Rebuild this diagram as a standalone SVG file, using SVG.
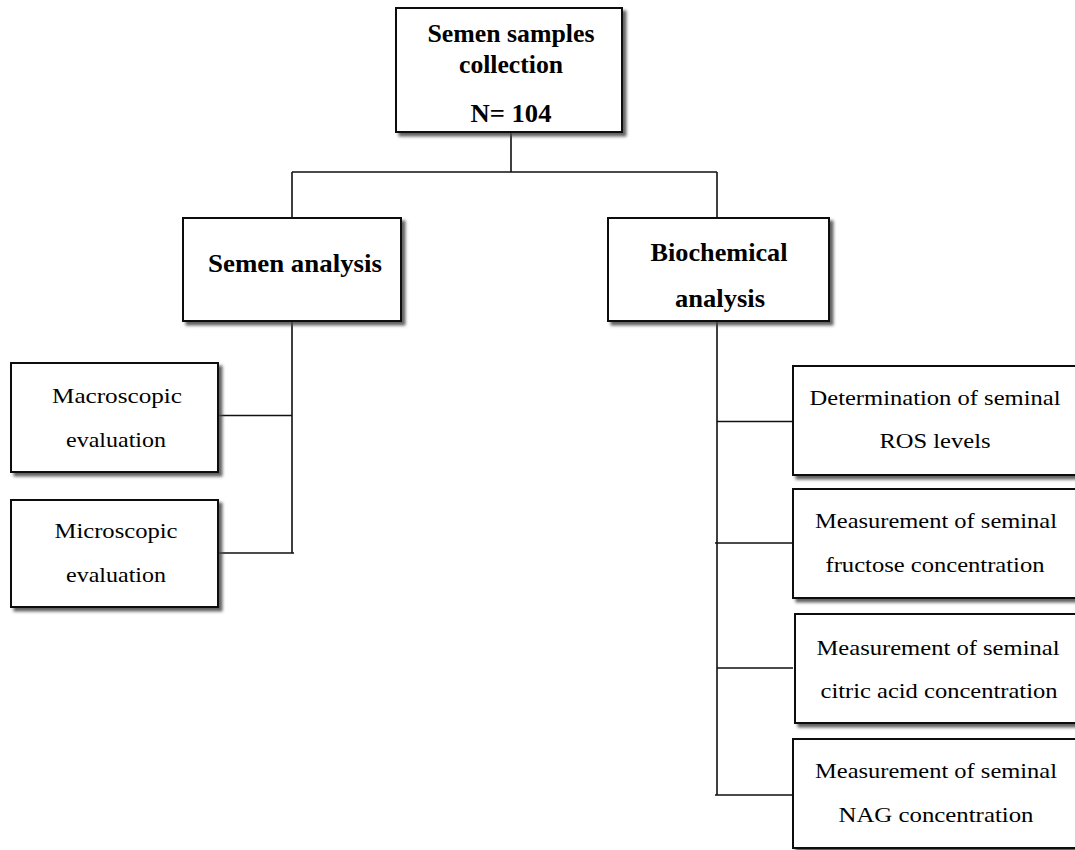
<svg xmlns="http://www.w3.org/2000/svg" width="1075" height="850" viewBox="0 0 1075 850">
<defs>
<filter id="sh" x="-10%" y="-10%" width="130%" height="130%">
<feDropShadow dx="3.5" dy="3.5" stdDeviation="1.5" flood-color="#444" flood-opacity="0.85"/>
</filter>
<style>
.box{fill:#fff;stroke:#111;stroke-width:2;filter:url(#sh)}
.b{font-family:"Liberation Serif","Times New Roman",serif;font-weight:bold;font-size:25px;fill:#000;text-anchor:middle}
.r{font-family:"Liberation Serif","Times New Roman",serif;font-size:22px;fill:#000;text-anchor:middle}
.c{stroke:#111;stroke-width:1.6;fill:none}
</style>
</defs>
<rect width="1075" height="850" fill="#fff"/>
<g id="connectors">
<path class="c" d="M511 132V172M292 172H717M292 172V218M717 172V218"/>
<path class="c" d="M292 321V553M218 415.5H292M218 553H294"/>
<path class="c" d="M717 321V795M717 421.5H793M715 543H793M717 668H793M715 795H793"/>
</g>
<g id="n1">
<rect class="box" x="396" y="8" width="226" height="124"/>
<text class="b" x="511" y="42" textLength="167" lengthAdjust="spacingAndGlyphs">Semen samples</text>
<text class="b" x="511" y="73" textLength="104" lengthAdjust="spacingAndGlyphs">collection</text>
<text class="b" x="511" y="122" textLength="81" lengthAdjust="spacingAndGlyphs">N= 104</text>
</g>
<g id="n2">
<rect class="box" x="183" y="218" width="218" height="103"/>
<text class="b" x="295" y="272" textLength="174" lengthAdjust="spacingAndGlyphs">Semen analysis</text>
</g>
<g id="n3">
<rect class="box" x="608" y="218" width="221" height="103"/>
<text class="b" x="719" y="261" textLength="137" lengthAdjust="spacingAndGlyphs">Biochemical</text>
<text class="b" x="720" y="307" textLength="90" lengthAdjust="spacingAndGlyphs">analysis</text>
</g>
<g id="n4">
<rect class="box" x="11" y="363" width="207" height="109"/>
<text class="r" x="117" y="403" textLength="130" lengthAdjust="spacingAndGlyphs">Macroscopic</text>
<text class="r" x="116" y="447" textLength="100" lengthAdjust="spacingAndGlyphs">evaluation</text>
</g>
<g id="n5">
<rect class="box" x="11" y="500" width="207" height="107"/>
<text class="r" x="116" y="538" textLength="123" lengthAdjust="spacingAndGlyphs">Microscopic</text>
<text class="r" x="116" y="582" textLength="100" lengthAdjust="spacingAndGlyphs">evaluation</text>
</g>
<g id="n6">
<rect class="box" x="793" y="366" width="300" height="109"/>
<text class="r" x="935" y="405" textLength="251" lengthAdjust="spacingAndGlyphs">Determination of seminal</text>
<text class="r" x="935" y="448" textLength="111" lengthAdjust="spacingAndGlyphs">ROS levels</text>
</g>
<g id="n7">
<rect class="box" x="793" y="489" width="300" height="109"/>
<text class="r" x="936" y="528" textLength="242" lengthAdjust="spacingAndGlyphs">Measurement of seminal</text>
<text class="r" x="935" y="572" textLength="219" lengthAdjust="spacingAndGlyphs">fructose concentration</text>
</g>
<g id="n8">
<rect class="box" x="795" y="614" width="300" height="109"/>
<text class="r" x="938" y="655" textLength="243" lengthAdjust="spacingAndGlyphs">Measurement of seminal</text>
<text class="r" x="939" y="698" textLength="237" lengthAdjust="spacingAndGlyphs">citric acid concentration</text>
</g>
<g id="n9">
<rect class="box" x="793" y="739" width="300" height="109"/>
<text class="r" x="936" y="778" textLength="242" lengthAdjust="spacingAndGlyphs">Measurement of seminal</text>
<text class="r" x="936" y="822" textLength="195" lengthAdjust="spacingAndGlyphs">NAG concentration</text>
</g>
</svg>
